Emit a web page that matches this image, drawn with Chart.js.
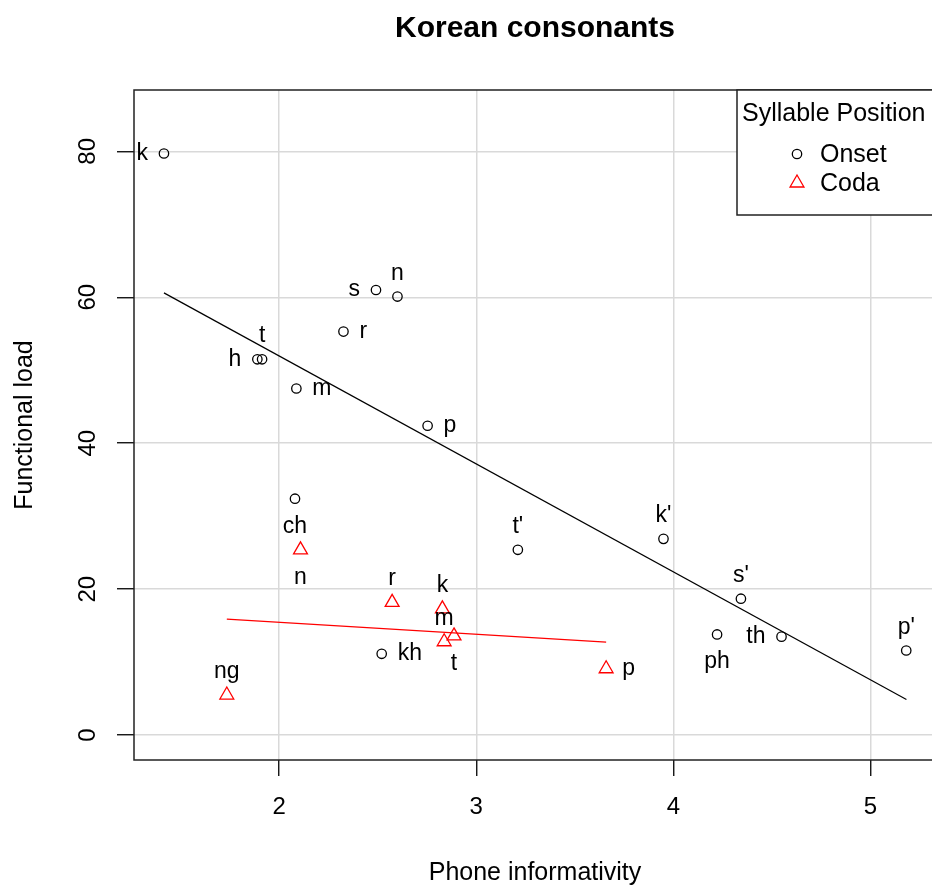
<!DOCTYPE html>
<html>
<head>
<meta charset="utf-8">
<title>Korean consonants</title>
<style>
  html, body { margin: 0; padding: 0; overflow: hidden; background: #fff; width: 932px; height: 885px; }
  canvas { display: block; }
</style>
<script src="https://cdn.jsdelivr.net/npm/chart.js@4/dist/chart.umd.min.js"></script>
</head>
<body>
<canvas id="c" width="940" height="885" style="width:940px;height:885px"></canvas>
<script>
// ---------------- data ----------------
const chartTitle = 'Korean consonants';
const xAxisTitle = 'Phone informativity';
const yAxisTitle = 'Functional load';
const legendTitle = 'Syllable Position';
const seriesNames = ['Onset', 'Coda'];

const xTicks = [2, 3, 4, 5];
const yTicks = [0, 20, 40, 60, 80];

const onsetLabels = ['k', 's', 'n', 'r', 'h', 't', 'm', 'p', 'ch', "t'", "k'", "s'", 'ph', 'th', "p'", 'kh'];
const onsetX = [1.415, 2.491, 2.600, 2.326, 1.889, 1.913, 2.087, 2.753, 2.080, 3.211, 3.950, 4.343, 4.222, 4.549, 5.182, 2.520];
const onsetY = [79.7, 61.0, 60.1, 55.3, 51.5, 51.5, 47.5, 42.4, 32.4, 25.4, 26.9, 18.7, 13.8, 13.5, 11.6, 11.15];

const codaLabels = ['ng', 'n', 'r', 'k', 'm', 't', 'p'];
const codaX = [1.734, 2.108, 2.573, 2.828, 2.837, 2.887, 3.659];
const codaY = [5.5, 25.4, 18.2, 17.3, 12.8, 13.6, 9.1];

// fitted regression lines (end points)
const onsetFitX = [1.415, 5.183];
const onsetFitY = [60.6, 4.9];
const codaFitX = [1.734, 3.659];
const codaFitY = [15.9, 12.75];

// ---------------- presentation ----------------
const FONT = '"Liberation Sans", Arial, Helvetica, sans-serif';
const onsetLabelSide = ['left', 'left', 'above', 'right', 'left', 'above', 'right', 'right', 'below', 'above', 'above', 'above', 'below', 'left', 'above', 'right'];
const codaLabelSide = ['above', 'below', 'above', 'above', 'above', 'below', 'right'];

const toPts = (xs, ys) => xs.map((x, i) => ({ x: x, y: ys[i] }));

const pointLabelPlugin = {
  id: 'pointLabelPlugin',
  afterDatasetsDraw(chart) {
    const ctx = chart.ctx;
    ctx.save();
    ctx.font = '23px ' + FONT;
    ctx.fillStyle = '#000';
    chart.data.datasets.forEach((ds, i) => {
      if (!ds.pointText) return;
      const meta = chart.getDatasetMeta(i);
      meta.data.forEach((el, j) => {
        const side = ds.pointSide[j];
        const txt = ds.pointText[j];
        let x = el.x, y = el.y;
        if (side === 'left') { ctx.textAlign = 'right'; ctx.textBaseline = 'middle'; x -= 16; }
        else if (side === 'right') { ctx.textAlign = 'left'; ctx.textBaseline = 'middle'; x += 16; }
        else if (side === 'above') { ctx.textAlign = 'center'; ctx.textBaseline = 'alphabetic'; y -= 17; }
        else { ctx.textAlign = 'center'; ctx.textBaseline = 'alphabetic'; y += 34; }
        ctx.fillText(txt, x, y);
      });
    });
    ctx.restore();
  }
};

const framePlugin = {
  id: 'framePlugin',
  afterDatasetsDraw(chart) {
    const ctx = chart.ctx;
    const a = chart.chartArea;
    const ys = chart.scales.y;
    ctx.save();
    // plot box
    ctx.strokeStyle = '#222';
    ctx.lineWidth = 1.5;
    ctx.strokeRect(a.left, a.top, a.right - a.left, a.bottom - a.top);
    // rotated y tick labels
    ctx.fillStyle = '#000';
    ctx.font = '24px ' + FONT;
    ctx.textAlign = 'center';
    ctx.textBaseline = 'middle';
    yTicks.forEach(v => {
      const py = ys.getPixelForValue(v);
      ctx.save();
      ctx.translate(88, py);
      ctx.rotate(-Math.PI / 2);
      ctx.fillText(String(v), 0, 0);
      ctx.restore();
    });
    // main title
    ctx.font = 'bold 30px ' + FONT;
    ctx.fillText(chartTitle, (a.left + a.right) / 2, 29);
    // legend
    const lx = 737, ly = a.top, lw = 198, lh = 125;
    ctx.fillStyle = '#fff';
    ctx.fillRect(lx, ly, lw, lh);
    ctx.strokeStyle = '#222';
    ctx.lineWidth = 1.5;
    ctx.strokeRect(lx, ly, lw, lh);
    ctx.fillStyle = '#000';
    ctx.font = '25px ' + FONT;
    ctx.textAlign = 'left';
    ctx.fillText(legendTitle, 742, ly + 24);
    const ds = chart.data.datasets;
    [0, 1].forEach(k => {
      const my = ly + 64 + k * 29;
      ctx.save();
      ctx.strokeStyle = ds[k].borderColor;
      ctx.fillStyle = 'rgba(0,0,0,0)';
      ctx.lineWidth = ds[k].borderWidth;
      Chart.helpers.drawPoint(ctx, { pointStyle: ds[k].pointStyle, radius: ds[k].pointRadius, borderWidth: ds[k].borderWidth, rotation: 0 }, 797, my);
      ctx.restore();
      ctx.fillStyle = '#000';
      ctx.fillText(seriesNames[k], 820, my + 1);
    });
    ctx.restore();
  }
};

const chart = new Chart(document.getElementById('c'), {
  type: 'scatter',
  data: {
    datasets: [
      {
        label: seriesNames[0],
        data: toPts(onsetX, onsetY),
        pointStyle: 'circle',
        pointRadius: 4.7,
        borderColor: '#000000',
        backgroundColor: 'rgba(0,0,0,0)',
        borderWidth: 1.3,
        pointText: onsetLabels,
        pointSide: onsetLabelSide
      },
      {
        label: seriesNames[1],
        data: toPts(codaX, codaY),
        pointStyle: 'triangle',
        pointRadius: 8,
        borderColor: '#ff0000',
        backgroundColor: 'rgba(0,0,0,0)',
        borderWidth: 1.3,
        pointText: codaLabels,
        pointSide: codaLabelSide
      },
      {
        label: 'Onset fit',
        data: toPts(onsetFitX, onsetFitY),
        showLine: true,
        pointRadius: 0,
        borderColor: '#000000',
        borderWidth: 1.2,
        fill: false
      },
      {
        label: 'Coda fit',
        data: toPts(codaFitX, codaFitY),
        showLine: true,
        pointRadius: 0,
        borderColor: '#ff0000',
        borderWidth: 1.2,
        fill: false
      }
    ]
  },
  options: {
    responsive: false,
    animation: false,
    devicePixelRatio: 1,
    layout: { autoPadding: false, padding: { left: 0, right: 4, top: 90, bottom: 0 } },
    plugins: {
      legend: { display: false },
      title: { display: false },
      tooltip: { enabled: false }
    },
    scales: {
      x: {
        type: 'linear',
        min: 1.263,
        max: 5.333,
        afterBuildTicks: s => { s.ticks = xTicks.map(v => ({ value: v })); },
        afterFit: s => { s.height = 125; s.paddingLeft = 0; s.paddingRight = 0; },
        border: { display: false },
        grid: { color: '#d9d9d9', lineWidth: 1.5, tickColor: '#000', tickLength: 16, tickWidth: 1.3 },
        ticks: { color: '#000', font: { size: 24, family: FONT }, padding: 17, maxRotation: 0 },
        title: { display: true, text: xAxisTitle, color: '#000', font: { size: 25, family: FONT }, padding: { top: 0, bottom: -3 } }
      },
      y: {
        type: 'linear',
        min: -3.4,
        max: 88.4,
        afterBuildTicks: s => { s.ticks = yTicks.map(v => ({ value: v })); },
        afterFit: s => { s.width = 134; s.paddingTop = 0; s.paddingBottom = 0; },
        border: { display: false },
        grid: { color: '#d9d9d9', lineWidth: 1.5, tickColor: '#000', tickLength: 17, tickWidth: 1.3 },
        ticks: { display: false },
        title: { display: true, text: yAxisTitle, color: '#000', font: { size: 25, family: FONT }, padding: { top: 10, bottom: 0 } }
      }
    }
  },
  plugins: [pointLabelPlugin, framePlugin]
});
</script>
</body>
</html>
